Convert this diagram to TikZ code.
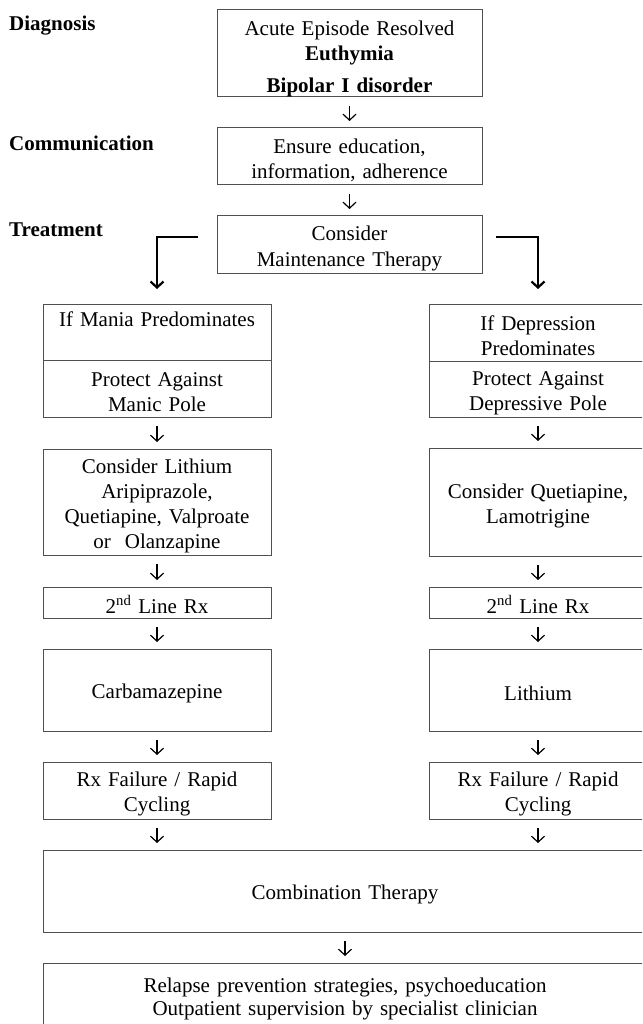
\documentclass[tikz,border=0pt]{standalone}
\usepackage{fontspec}
\setmainfont{Liberation Serif}
\usetikzlibrary{arrows.meta, positioning}
\definecolor{boxgray}{RGB}{80,80,80}

\begin{document}
\begin{tikzpicture}[x=1pt, y=-1pt, >={Straight Barb[length=6pt, width=13pt]},
    font=\fontsize{21}{25}\selectfont,
    box/.style={draw=boxgray, line width=1pt, rectangle, inner xsep=2pt, inner ysep=0pt, outer sep=0pt,
        align=center, execute at begin node={\rule{0pt}{22pt}}},
    colbox/.style={box, minimum width=228pt, text width=222pt},
    rcolbox/.style={box, minimum width=218pt, text width=212pt},
    stage/.style={anchor=west, inner sep=0pt, font=\fontsize{21}{25}\selectfont\bfseries},
    flow/.style={->, line width=1.2pt, shorten <=9pt, shorten >=7pt},
    branch/.style={->, line width=2.2pt, shorten >=15pt}]
    \useasboundingbox (0,0) rectangle (642,1024);
    \clip (0,0) rectangle (642,1024);

    % stages
    \node[stage] (diagnosis) at (9,26) {Diagnosis};
    \node[stage] (communication) at (9,143) {Communication};
    \node[stage] (treatment) at (9,230) {Treatment};

    % top chain
    \node[box, minimum width=265pt, text width=259pt, minimum height=87pt] (resolved) at (349.5,53.5)
        {\rule{0pt}{25pt}Acute Episode Resolved\\\textbf{Euthymia}\\[7pt]\textbf{Bipolar I disorder}};
    \node[box, minimum width=265pt, text width=259pt, minimum height=57pt, below=31pt of resolved] (educate)
        {Ensure education,\\information, adherence};
    \node[box, minimum width=265pt, text width=259pt, minimum height=57pt, below=31pt of educate] (maint)
        {Consider\\[1pt]Maintenance Therapy};

    % mania column
    \node[colbox, minimum height=56pt] (mania) at (157,332) {If Mania Predominates\\\strut};
    \node[colbox, minimum height=57pt, below=0pt of mania] (maniapole) {Protect Against\\Manic Pole};
    \node[colbox, minimum height=106pt, below=32pt of maniapole] (maniadrugs)
        {Consider Lithium\\Aripiprazole,\\Quetiapine, Valproate\\or~~Olanzapine};
    \node[colbox, minimum height=31pt, below=32pt of maniadrugs] (maniasecond) {2\textsuperscript{nd} Line Rx};
    \node[colbox, minimum height=82pt, below=31pt of maniasecond] (carba) {Carbamazepine};
    \node[colbox, minimum height=57pt, below=31pt of carba] (maniafail) {Rx Failure / Rapid\\Cycling};

    % depression column
    \node[rcolbox, minimum height=57pt] (depr) at (538,332.5) {If Depression\\Predominates};
    \node[rcolbox, minimum height=56pt, below=0pt of depr] (deprpole) {Protect Against\\Depressive Pole};
    \node[rcolbox, minimum height=108pt, below=31pt of deprpole] (deprdrugs) {Consider Quetiapine,\\Lamotrigine};
    \node[rcolbox, minimum height=31pt, below=31pt of deprdrugs] (deprsecond) {2\textsuperscript{nd} Line Rx};
    \node[rcolbox, minimum height=82pt, below=31pt of deprsecond] (lithium) {Lithium};
    \node[rcolbox, minimum height=57pt, below=31pt of lithium] (deprfail) {Rx Failure / Rapid\\Cycling};

    % bottom
    \node[box, minimum width=604pt, text width=598pt, minimum height=82pt,
        below=31pt of maniafail.south west, anchor=north west] (combo) {Combination Therapy};
    \node[box, minimum width=604pt, text width=598pt, minimum height=64pt, below=31pt of combo,
        execute at begin node={}] (relapse)
        {Relapse prevention strategies, psychoeducation\\[-2pt]Outpatient supervision by specialist clinician};

    \draw[flow] (resolved) -- (educate);
    \draw[flow] (educate) -- (maint);
    \draw[branch] ([xshift=-19pt, yshift=7.5pt]maint.west) -| (mania);
    \draw[branch] ([xshift=14pt, yshift=7.5pt]maint.east) -| (depr);
    \draw[flow] (maniapole) -- (maniadrugs);
    \draw[flow] (maniadrugs) -- (maniasecond);
    \draw[flow] (maniasecond) -- (carba);
    \draw[flow] (carba) -- (maniafail);
    \draw[flow] (deprpole) -- (deprdrugs);
    \draw[flow] (deprdrugs) -- (deprsecond);
    \draw[flow] (deprsecond) -- (lithium);
    \draw[flow] (lithium) -- (deprfail);
    \draw[flow] (maniafail) -- (maniafail |- combo.north);
    \draw[flow] (deprfail) -- (deprfail |- combo.north);
    \draw[flow] (combo) -- (relapse);
\end{tikzpicture}
\end{document}
